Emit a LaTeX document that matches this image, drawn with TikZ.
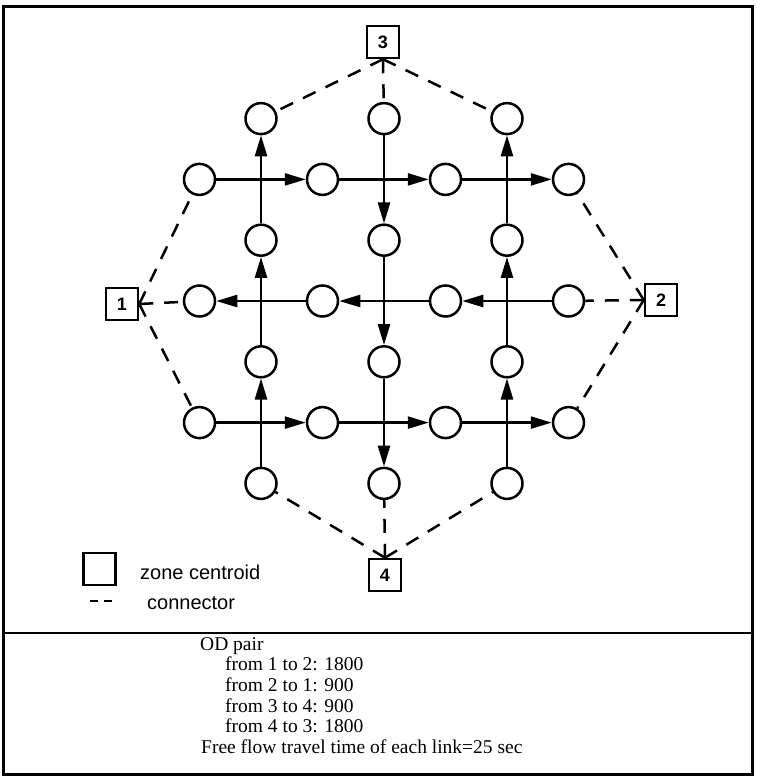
\documentclass[tikz,border=0pt]{standalone}
\usepackage{fontspec}
\setmainfont{Liberation Serif}
\newfontfamily\labelfont{Liberation Sans}
\usetikzlibrary{arrows.meta}
\begin{document}
\begin{tikzpicture}[x=1pt,y=-1pt,
  cnode/.style={circle,draw,line width=2.5pt,minimum size=31pt,inner sep=0pt},
  zone/.style={rectangle,draw,line width=2.5pt,minimum size=32pt,inner sep=0pt,font=\labelfont\bfseries\fontsize{18}{18}\selectfont},
  link/.style={line width=2.5pt,-{Triangle[length=21pt,width=12pt]}},
  conn/.style={line width=2.5pt,dash pattern=on 14pt off 11pt},
  legtext/.style={anchor=west,inner sep=0pt,font=\labelfont\fontsize{20}{20}\selectfont},
  odtext/.style={anchor=base west,inner sep=0pt,font=\fontsize{19.5}{20}\selectfont}]
\useasboundingbox (0,0) rectangle (756,779);
% frame
\draw[line width=3pt] (3,6) rectangle (752,774);
\draw[line width=2.5pt] (3,633) -- (752,633);
% grid nodes
\foreach \c/\r in {2/1,4/1,6/1, 1/2,3/2,5/2,7/2, 2/3,4/3,6/3, 1/4,3/4,5/4,7/4, 2/5,4/5,6/5, 1/6,3/6,5/6,7/6, 2/7,4/7,6/7}
  \node[cnode] (n\c\r) at ({384+61.5*(\c-4)},{301+60.8*(\r-4)}) {};
% zones
\node[zone] (z3) at (383,42) {3};
\node[zone] (z1) at (122,304) {1};
\node[zone] (z2) at (661,300) {2};
\node[zone] (z4) at (385,575) {4};
% links: rows
\draw[link] (n12) -- (n32);
\draw[link] (n32) -- (n52);
\draw[link] (n52) -- (n72);
\draw[link] (n74) -- (n54);
\draw[link] (n54) -- (n34);
\draw[link] (n34) -- (n14);
\draw[link] (n16) -- (n36);
\draw[link] (n36) -- (n56);
\draw[link] (n56) -- (n76);
% links: columns
\draw[link] (n27) -- (n25);
\draw[link] (n25) -- (n23);
\draw[link] (n23) -- (n21);
\draw[link] (n41) -- (n43);
\draw[link] (n43) -- (n45);
\draw[link] (n45) -- (n47);
\draw[link] (n67) -- (n65);
\draw[link] (n65) -- (n63);
\draw[link] (n63) -- (n61);
% connectors
\foreach \t in {n21,n41,n61} \draw[conn] (z3.south) -- (\t);
\foreach \t in {n12,n14,n16} \draw[conn] (z1.east) -- (\t);
\foreach \t in {n72,n74,n76} \draw[conn] (z2.west) -- (\t);
\foreach \t in {n27,n47,n67} \draw[conn] (z4.north) -- (\t);
% legend
\node[zone] (lz) at (99.5,569) {};
\node[legtext] (lzt) at (140,572) {zone centroid};
\coordinate (ld1) at (90,601);
\coordinate (ld2) at (112,601);
\draw[line width=2.5pt,dash pattern=on 8pt off 6pt] (ld1) -- (ld2);
\node[legtext] (lct) at (147,603) {connector};
% OD text
\node[odtext] (od0) at (200,650) {OD pair};
\node[odtext] (od1) at (225,670) {from 1 to 2: 1800};
\node[odtext] (od2) at (225,691) {from 2 to 1: 900};
\node[odtext] (od3) at (225,712) {from 3 to 4: 900};
\node[odtext] (od4) at (225,732) {from 4 to 3: 1800};
\node[odtext] (od5) at (201,753) {Free flow travel time of each link=25 sec};
\end{tikzpicture}
\end{document}
